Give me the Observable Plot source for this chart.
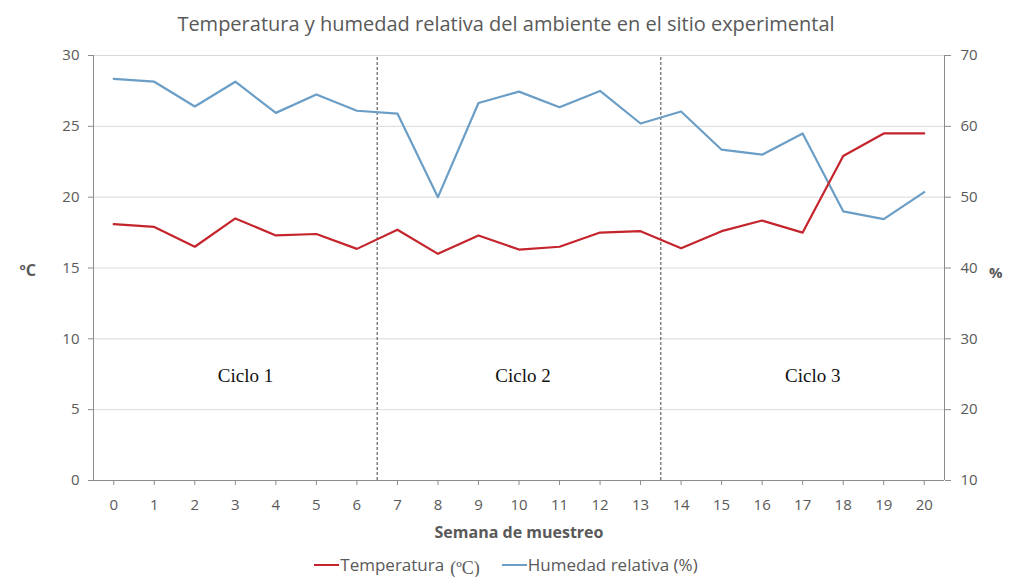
<!DOCTYPE html>
<html>
<head>
<meta charset="utf-8">
<script src="https://cdn.jsdelivr.net/npm/d3@7"></script>
<script src="https://cdn.jsdelivr.net/npm/@observablehq/plot@0.6"></script>
<style>
  html, body { margin: 0; padding: 0; background: #fff; }
  body { width: 1012px; height: 577px; overflow: hidden; font-family: "Open Sans", sans-serif; color: #595959; }
  #title { height: 36px; box-sizing: border-box; padding-top: 12px; text-align: center; font-size: 20px; line-height: 24px; color: #595959; white-space: nowrap; }
  #legend { height: 31px; box-sizing: border-box; padding-top: 6px; display: flex; justify-content: center; align-items: center; font-size: 17px; line-height: 20px; color: #595959; }
  .sw { display: inline-block; width: 25px; height: 2px; margin-right: 1px; }
  .item { display: flex; align-items: center; margin: 0 11px; }
  .serif { font-family: "Liberation Serif", serif; font-size: 18px; margin-left: 6px; position: relative; top: 3px; }
</style>
</head>
<body>
<div id="title">Temperatura y humedad relativa del ambiente en el sitio experimental</div>
<div id="chart"></div>
<div id="legend">
  <span class="item"><span class="sw" style="background:#c4242b"></span>Temperatura<span class="serif">(ºC)</span></span>
  <span class="item"><span class="sw" style="background:#6b9ec6"></span>Humedad relativa (%)</span>
</div>
<script>
const semanas = [0,1,2,3,4,5,6,7,8,9,10,11,12,13,14,15,16,17,18,19,20];
const temperatura = [18.1,17.9,16.5,18.5,17.3,17.4,16.35,17.7,16.0,17.3,16.3,16.5,17.5,17.6,16.4,17.6,18.35,17.5,22.9,24.5,24.5];
const humedad = [66.7,66.3,62.8,66.3,61.9,64.5,62.2,61.8,50.0,63.3,64.9,62.7,65.0,60.4,62.1,56.7,56.0,59.0,48.0,46.9,50.7];
const ticksTemp = [0,5,10,15,20,25,30];
const ticksHum = [10,20,30,40,50,60,70];
const limitesCiclo = [6.5, 13.5];
const ciclos = ["Ciclo 1","Ciclo 2","Ciclo 3"];
const ciclosX = [3.25, 10.1, 17.25];
const ciclosY = 7.4;

// humidity (10–70 %) mapped onto temperature scale (0–30 °C)
const humToTemp = h => (h - 10) / 2;

const tempData = semanas.map((s, i) => ({semana: s, valor: temperatura[i]}));
const humData = semanas.map((s, i) => ({semana: s, valor: humToTemp(humedad[i])}));
const cicloData = ciclos.map((c, i) => ({texto: c, x: ciclosX[i], y: ciclosY}));

const gray = "#595959";
const axisGray = "#8c8c8c";

const chart = Plot.plot({
  width: 1012,
  height: 510,
  marginTop: 19,
  marginBottom: 66,
  marginLeft: 93,
  marginRight: 68,
  style: {fontFamily: "Open Sans, sans-serif", fontSize: "15px", color: gray, background: "#fff"},
  x: {domain: [-0.5, 20.5]},
  y: {domain: [0, 30]},
  marks: [
    Plot.ruleY(ticksTemp.slice(1), {stroke: "#d9d9d9", strokeWidth: 1}),
    Plot.ruleX([-0.5, 20.5], {y1: 0, y2: 30, stroke: axisGray}),
    Plot.ruleY([0], {stroke: axisGray}),
    Plot.ruleX(limitesCiclo, {y1: 0, y2: 30, stroke: "#444", strokeDasharray: "3,2", strokeWidth: 1}),
    Plot.axisY({anchor: "left", ticks: ticksTemp, tickSize: 5, tickPadding: 9, stroke: axisGray, label: null, fill: gray}),
    Plot.axisY({anchor: "right", ticks: ticksTemp, tickSize: 6, tickPadding: 10, stroke: axisGray, label: null, fill: gray,
      tickFormat: d => ticksHum[ticksTemp.indexOf(d)]}),
    Plot.axisX({anchor: "bottom", ticks: semanas, tickSize: 5, tickPadding: 14, stroke: axisGray, label: null, fill: gray}),
    Plot.lineY(humData, {x: "semana", y: "valor", stroke: "#6b9ec6", strokeWidth: 2.2}),
    Plot.lineY(tempData, {x: "semana", y: "valor", stroke: "#c4242b", strokeWidth: 2.2}),
    Plot.text(cicloData, {x: "x", y: "y", text: "texto", fontFamily: "Liberation Serif, serif", fontSize: 19, fill: "#111"}),
    Plot.text(["Semana de muestreo"], {frameAnchor: "bottom", dy: 57, fontWeight: "bold", fontSize: 16, fill: gray}),
    Plot.text(["ºC"], {frameAnchor: "left", dx: -74, dy: 3, fontWeight: "bold", fontSize: 16, fill: gray}),
    Plot.text(["%"], {frameAnchor: "right", dx: 58, dy: 5, fontWeight: "bold", fontSize: 15, fill: gray})
  ]
});
document.getElementById("chart").appendChild(chart);
</script>
</body>
</html>
